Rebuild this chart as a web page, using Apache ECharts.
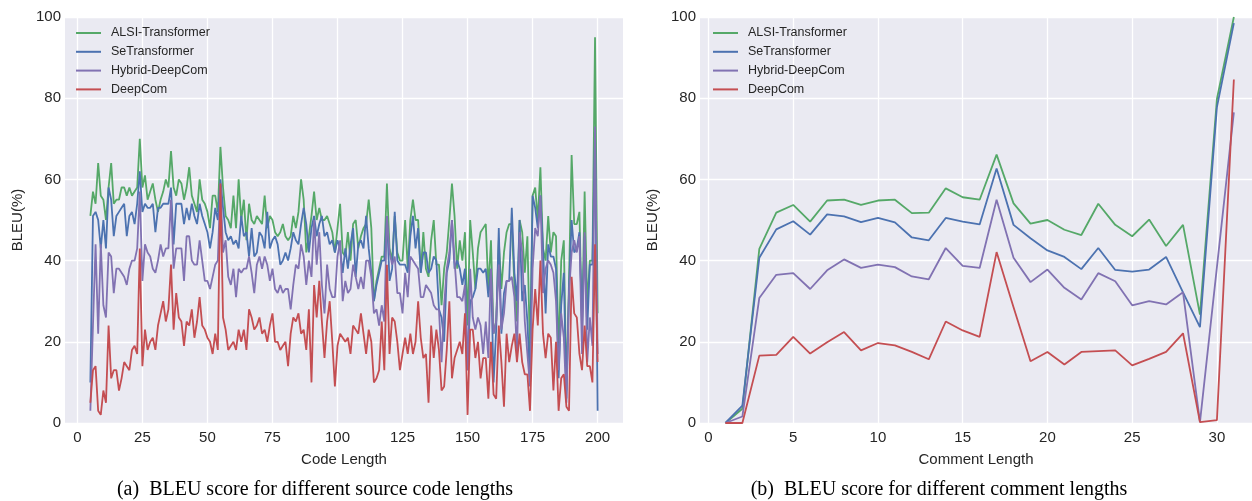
<!DOCTYPE html>
<html>
<head>
<meta charset="utf-8">
<title>BLEU score</title>
<script src="https://cdn.jsdelivr.net/npm/echarts@6/dist/echarts.min.js"></script>
<style>
    html, body { margin: 0; padding: 0; background: #fff; }
    #chart { width: 1252px; height: 501px; }
</style>
</head>
<body>
<div id="chart"></div>
<script>
    var seriesNames = ['ALSI-Transformer', 'SeTransformer', 'Hybrid-DeepCom', 'DeepCom'];
    var colors = ['#55A868', '#4C72B0', '#8172B2', '#C44E52'];

    // (a) code length 5..200
    var codeAlsi = [
        51,57,54,64,56,55,50,58,64,54, 55,55,58,58,56,58,56,57,58,70, 58,61,55,57,59,55,52,55,57,60, 58,67,58,56,60,59,55,58,
        63,56,54,52,60,55,54,52,48,56, 56,52,68,58,51,50,48,56,48,60, 50,55,45,54,50,49,51,50,49,56, 48,51,50,47,46,47,49,46,
        45,46,51,48,52,60,55,42,46,51, 57,50,53,50,50,51,49,47,42,48, 54,42,41,47,40,49,50,43,46,48, 49,55,48,30,35,38,41,41,
        59,43,40,51,42,40,40,50,38,50, 55,50,50,37,47,38,36,45,50,39, 39,29,38,42,50,59,51,38,45,40, 47,24,50,42,33,43,47,48,
        49,33,45,22,25,45,33,42,47,49, 49,34,25,50,47,37,46,17,56,58, 50,63,43,40,51,42,47,46,17,40, 45,8,35,66,49,49,52,23,57,29, 40,40,95,27
    ];
    var codeSe = [
        10,51,52,50,43,50,43,58,55,46, 51,52,53,54,46,51,52,49,54,62, 52,54,53,53,54,47,53,53,54,54, 54,58,44,54,54,54,49,53,
        50,54,51,49,54,51,49,47,43,47, 53,50,60,53,47,45,46,44,45,43, 51,46,47,41,48,41,42,47,46,43, 52,43,45,46,44,39,40,42,
        40,43,47,45,44,49,53,49,42,48, 51,46,49,51,46,47,44,45,42,45, 43,37,43,38,44,48,36,44,45,43, 51,43,37,30,34,37,40,40,
        51,35,38,52,40,39,39,39,37,46, 51,43,48,37,42,42,37,38,41,40, 28,26,20,37,40,50,38,40,38,34, 38,13,30,31,33,38,38,37,
        38,31,38,10,23,48,22,32,35,35, 53,37,30,50,30,34,25,10,56,53, 48,56,43,27,44,41,41,38,11,29, 37,6,33,50,42,43,47,25,46,23, 39,39,71,3
    ];
    var codeHybrid = [
        3,24,44,22,44,29,26,42,41,32, 38,38,37,36,34,38,40,40,43,57, 35,44,42,41,38,37,40,44,41,43, 43,55,38,43,43,43,35,46,
        46,40,39,39,45,40,35,35,33,36, 39,40,59,42,45,36,34,38,31,38, 37,38,38,41,37,32,39,41,38,41, 39,35,38,33,32,34,32,33,
        33,28,34,39,38,44,41,34,40,36, 50,39,47,34,27,39,33,31,31,41, 45,30,35,32,33,39,36,33,36,33, 40,40,36,27,28,24,29,25,
        51,42,39,41,32,32,27,37,31,41, 40,39,38,31,31,34,33,32,29,28, 28,15,29,38,42,50,40,31,31,30, 34,13,38,26,23,26,24,17,
        25,16,38,22,25,39,23,27,35,35, 36,31,17,47,42,25,17,9,38,48, 46,56,32,38,40,39,37,30,13,27, 21,5,32,42,45,42,46,17,47,15, 26,19,73,17
    ];
    var codeDeep = [
        5,13,14,3,2,8,5,24,11,13, 13,8,11,15,14,13,18,19,17,43, 14,23,18,20,21,18,24,27,30,25, 28,39,23,32,26,25,19,25,
        24,28,21,25,31,24,23,21,20,17, 22,18,59,26,23,18,19,20,18,23, 20,23,18,28,26,23,24,26,22,23, 20,24,27,20,20,18,19,20,
        14,22,26,25,27,22,23,18,28,10, 34,26,35,25,16,25,30,20,9,19, 22,21,20,21,17,24,23,22,27,22, 17,23,20,10,11,13,25,13,
        39,17,26,25,20,13,17,21,17,22, 17,20,30,21,16,17,5,24,16,23, 18,8,9,18,30,11,16,18,20,17, 27,2,23,23,16,20,11,16,
        16,6,20,7,6,24,15,4,22,15, 19,22,15,22,15,12,12,3,23,33, 24,40,22,16,22,21,8,20,3,11, 12,4,3,36,27,26,17,13,24,14, 14,10,44,15
    ];
    var codeLengths = [];
    for (var i = 5; i <= 200; i++) codeLengths.push(i);
    var codeTicks = [0, 25, 50, 75, 100, 125, 150, 175, 200];

    // (b) comment length 1..31
    var commentLengths = [1,2,3,4,5,6,7,8,9,10,11,12,13,14,15,16,17,18,19,20,21,22,23,24,25,26,27,28,29,30,31];
    var commentAlsi = [0,3.5,42.9,51.8,53.7,49.6,54.8,55,53.7,54.8,55,51.7,51.8,57.8,55.6,55,66.1,54.1,49.1,50,47.6,46.3,54,48.8,46,50.1,43.6,48.8,26.7,79.8,100];
    var commentSe = [0,4.3,40.7,47.7,49.7,46.4,51.4,50.9,49.5,50.5,49.4,45.7,45,50.5,49.6,48.9,62.7,48.8,45.5,42.5,40.9,37.9,43.1,37.7,37.3,37.8,40.9,32.2,23.6,77.8,98.5];
    var commentHybrid = [0,1.6,30.8,36.5,36.9,33,37.6,40.3,38.2,39,38.4,36.1,35.4,43.1,38.7,38.2,55,40.7,34.7,37.8,33.3,30.4,36.9,34.9,29,30,29.2,32.2,0.2,38.4,76.5];
    var commentDeep = [0,0,16.6,16.8,21.2,17.1,19.9,22.4,17.9,19.7,19.1,17.5,15.7,25,22.8,21.2,42.1,28.5,15.2,17.5,14.4,17.5,17.7,17.9,14.2,15.8,17.5,22.1,0.2,0.7,84.6];
    var commentTicks = [0, 5, 10, 15, 20, 25, 30];

    var textColor = '#262626';
    var font = 'Liberation Sans';

    function pairs(xs, ys) {
        return ys.map(function (v, i) { return [xs[i], v]; });
    }

    function xAxisOf(idx, min, max, ticks, name) {
        return {
            type: 'value', gridIndex: idx, min: min, max: max,
            name: name, nameLocation: 'middle', nameGap: 29,
            nameTextStyle: { color: textColor, fontSize: 15, fontFamily: font },
            axisLine: { show: false },
            axisTick: { show: false, customValues: ticks },
            axisLabel: { customValues: ticks, color: textColor, fontSize: 15, fontFamily: font, margin: 7 },
            splitLine: { show: true, lineStyle: { color: '#fff', width: 1.3 } }
        };
    }

    function yAxisOf(idx) {
        return {
            type: 'value', gridIndex: idx, min: 0, max: 100, interval: 20,
            name: 'BLEU(%)', nameLocation: 'middle', nameGap: 40,
            nameTextStyle: { color: textColor, fontSize: 15, fontFamily: font },
            axisLine: { show: false },
            axisTick: { show: false },
            axisLabel: { color: textColor, fontSize: 15, fontFamily: font, margin: 4 },
            splitLine: { show: true, lineStyle: { color: '#fff', width: 1.3 } }
        };
    }

    function legendOf(left) {
        return {
            left: left, top: 26, orient: 'vertical', padding: 0,
            icon: 'rect', itemWidth: 25, itemHeight: 2, itemGap: 4.8,
            textStyle: { color: textColor, fontSize: 12.5, fontFamily: font, lineHeight: 14, padding: [0, 0, 0, 5] },
            data: seriesNames
        };
    }

    var codeData = [codeAlsi, codeSe, codeHybrid, codeDeep];
    var commentData = [commentAlsi, commentSe, commentHybrid, commentDeep];
    var series = [];
    seriesNames.forEach(function (name, k) {
        series.push({
            name: name, type: 'line', xAxisIndex: 0, yAxisIndex: 0,
            data: pairs(codeLengths, codeData[k]), showSymbol: false,
            lineStyle: { color: colors[k], width: 1.8 }, itemStyle: { color: colors[k] }
        });
    });
    seriesNames.forEach(function (name, k) {
        series.push({
            name: name, type: 'line', xAxisIndex: 1, yAxisIndex: 1,
            data: pairs(commentLengths, commentData[k]), showSymbol: false,
            lineStyle: { color: colors[k], width: 1.8 }, itemStyle: { color: colors[k] }
        });
    });

    var chart = echarts.init(document.getElementById('chart'));
    chart.setOption({
        animation: false,
        backgroundColor: '#fff',
        grid: [
            { left: 65, right: 629, top: 17, bottom: 78, show: true, backgroundColor: '#EAEAF2', borderWidth: 0 },
            { left: 700, right: 0, top: 17, bottom: 78, show: true, backgroundColor: '#EAEAF2', borderWidth: 0 }
        ],
        xAxis: [
            xAxisOf(0, -4.75, 209.75, codeTicks, 'Code Length'),
            xAxisOf(1, -0.5, 32.07, commentTicks, 'Comment Length')
        ],
        yAxis: [yAxisOf(0), yAxisOf(1)],
        legend: [legendOf(76), legendOf(713)],
        graphic: [
            { type: 'text', x: 315, y: 490, style: { text: '(a)  BLEU score for different source code lengths', fill: '#000', font: '20px "Liberation Serif"', align: 'center', verticalAlign: 'middle' } },
            { type: 'text', x: 939, y: 490, style: { text: '(b)  BLEU score for different comment lengths', fill: '#000', font: '20px "Liberation Serif"', align: 'center', verticalAlign: 'middle' } }
        ],
        series: series
    });
</script>
</body>
</html>
